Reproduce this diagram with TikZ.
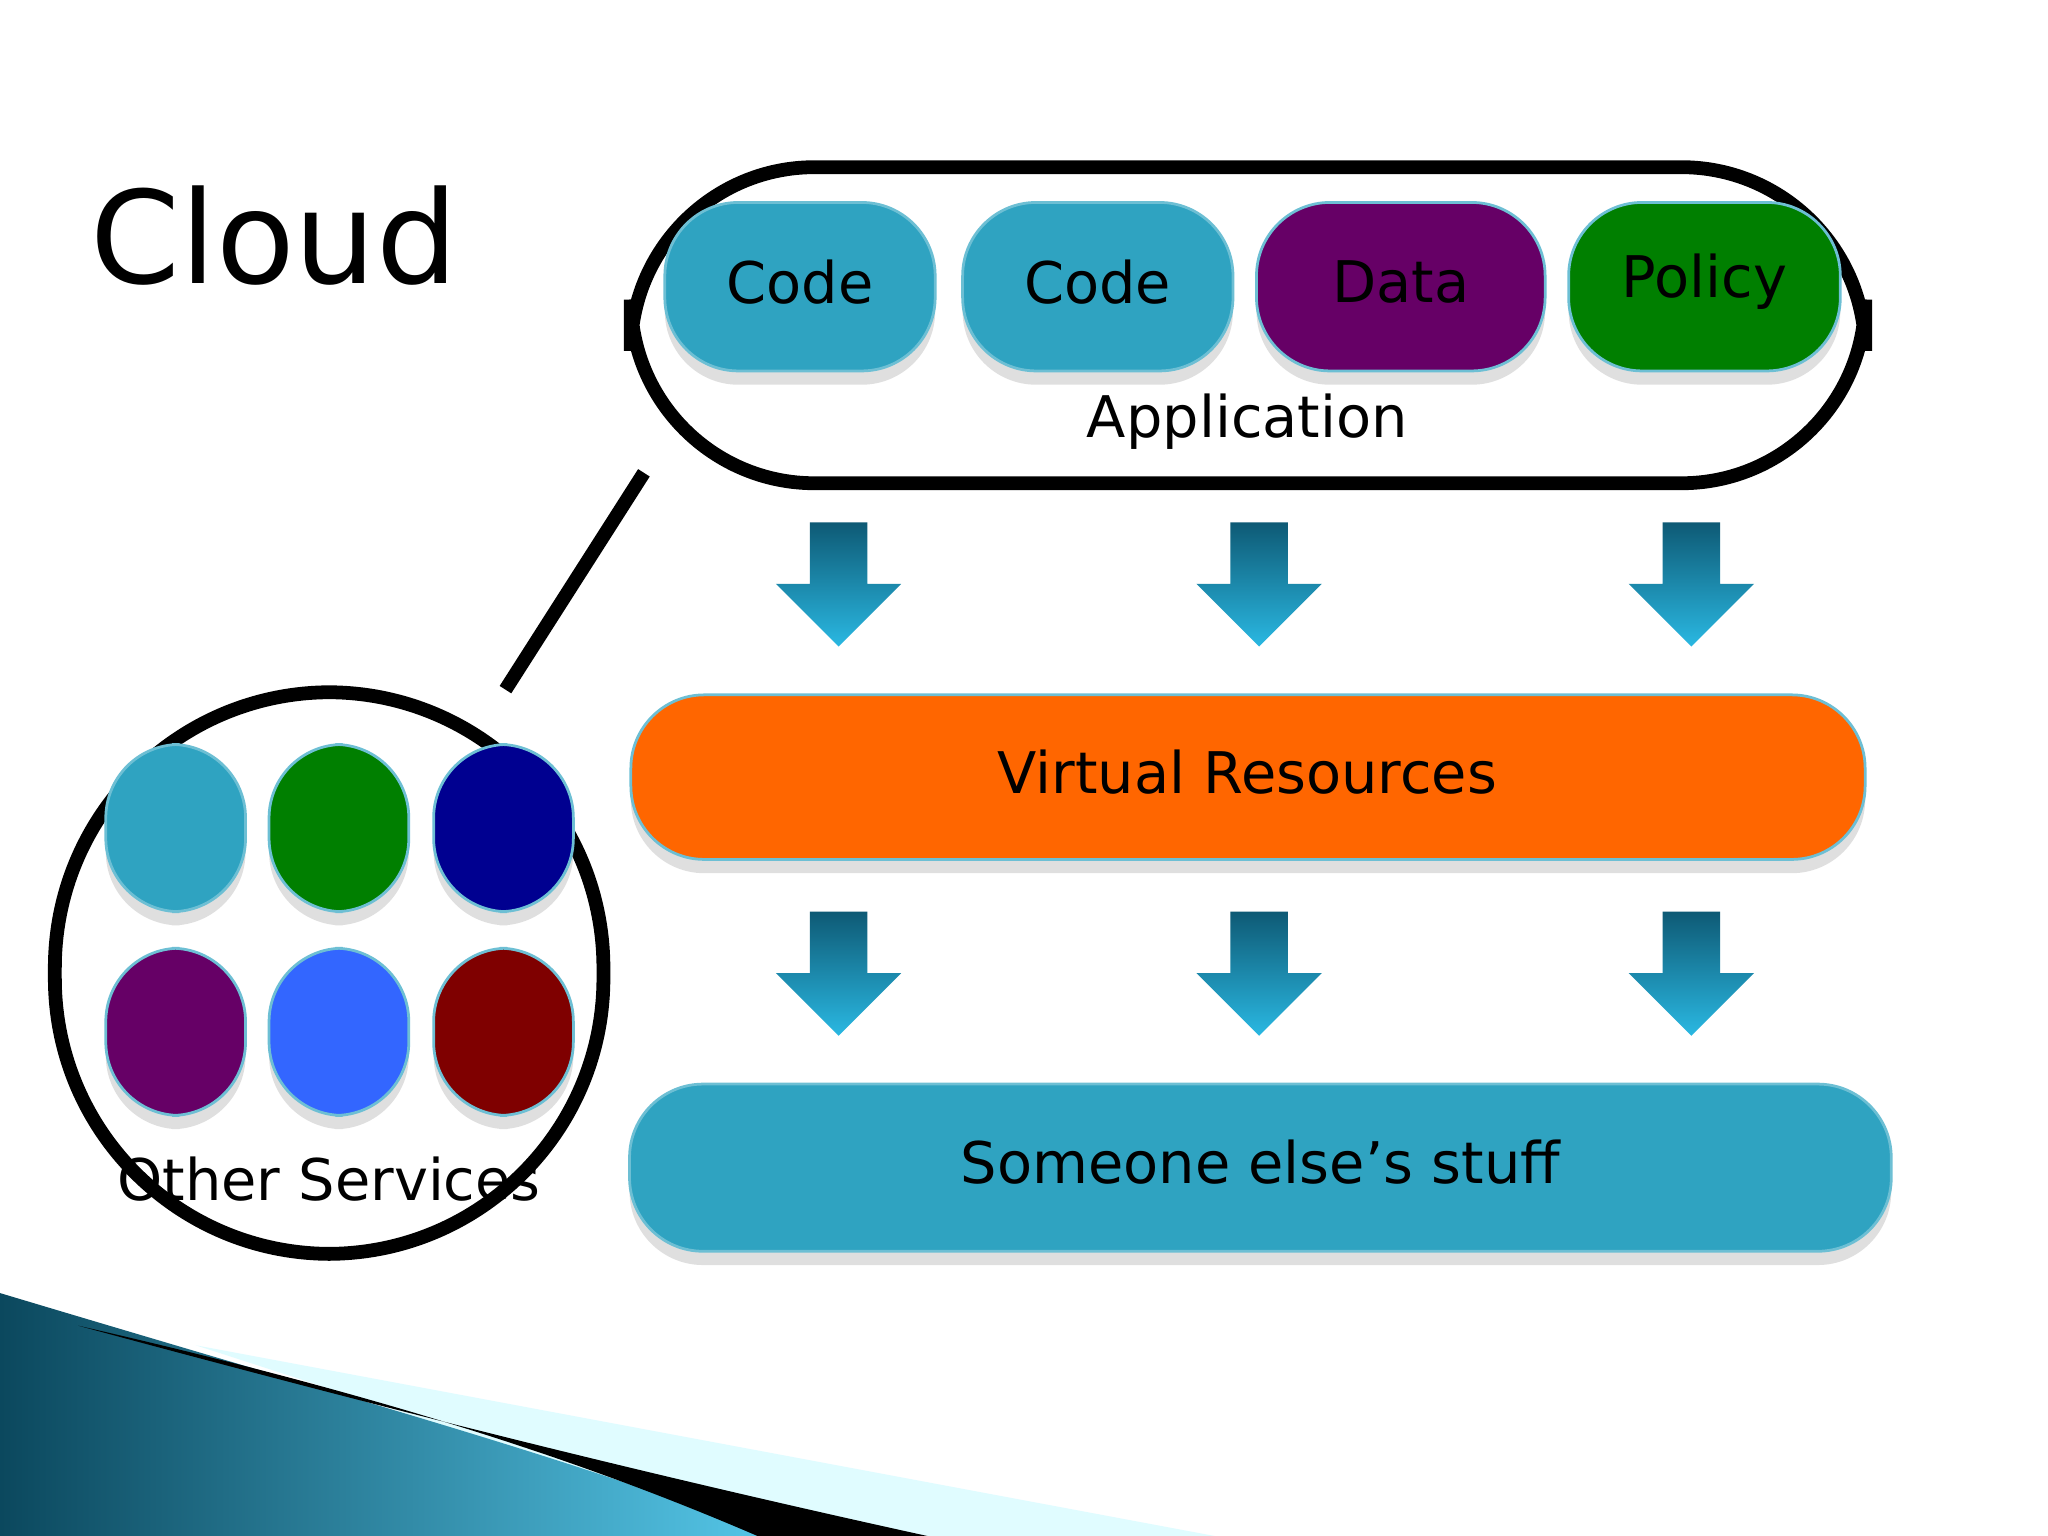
\documentclass[tikz,border=0pt]{standalone}
\usepackage{fontspec}
\setmainfont{DejaVu Sans}
\usetikzlibrary{shadows}
\definecolor{teal1}{HTML}{2FA3C1}
\definecolor{purp}{HTML}{660066}
\definecolor{grn}{HTML}{007F00}
\definecolor{navy1}{HTML}{000090}
\definecolor{blu}{HTML}{3366FF}
\definecolor{maroon1}{HTML}{7F0000}
\definecolor{orng}{HTML}{FF6600}
\definecolor{adark}{HTML}{0E5A75}
\definecolor{alight}{HTML}{2AB8E2}
\begin{document}
\begin{tikzpicture}[x=0.01cm,y=-0.01cm,
 blk/.style={draw=teal1!70!white,line width=0.6pt,rounded corners=16,drop shadow={shadow xshift=0pt,shadow yshift=-3pt,opacity=0.25}},
 lbl/.style={font=\fontsize{12.5pt}{14pt}\selectfont},
 frame/.style={draw=black,line width=3pt,fill=white},
 arr/.style={top color=adark,bottom color=alight,draw=none}]
\useasboundingbox (0,0) rectangle (1568,1176);
\fill[white] (0,0) rectangle (1568,1176);
% swoosh
\fill[blue!10!cyan!12!white] (150,1030) -- (930,1176) -- (600,1176) -- cycle;
\shade[left color=adark!80!black,right color=alight!80!white] (0,990) .. controls (300,1080) and (450,1120) .. (590,1176) -- (0,1176) -- cycle;
\fill[black] (60,1015) .. controls (300,1080) and (500,1130) .. (710,1176) -- (580,1176) .. controls (450,1120) and (300,1070) .. (60,1015) -- cycle;
\node[font=\fontsize{28pt}{32pt}\selectfont] (cloud) at (210,180) {Cloud};
% application
\draw[frame,rounded corners=40] (483,128) rectangle (1428,370);
\node (app) at (955,370) {};
\foreach \n/\a/\b/\c/\t in {c1/509/716/teal1/Code,c2/737/944/teal1/Code,d/962/1183/purp/Data,p/1201/1409/grn/Policy}{
 \draw[blk,fill=\c] (\a,155) rectangle (\b,284);
 \node[lbl] (\n) at ({(\a+\b)/2},216) {\t};}
\node[lbl] (applbl) at (955,323) {Application};
% other services
\coordinate (osc) at (387,528);
\draw[frame,rounded corners=60] (42,530) rectangle (462,960);
\coordinate (appc) at (493,362);
\draw[line width=3pt] (appc) -- (osc);
\foreach \x/\y/\c in {81/570/teal1,206/570/grn,332/570/navy1,81/726/purp,206/726/blu,332/726/maroon1}{
 \draw[blk,fill=\c] (\x,\y) rectangle ++(107,128);}
\node[lbl] (os) at (252,903) {Other Services};
% virtual
\draw[blk,fill=orng] (483,532) rectangle (1428,658);
\node[lbl] (vr) at (955,591) {Virtual Resources};
\draw[blk,fill=teal1] (482,830) rectangle (1448,958);
\node[lbl] (se) at (965,890) {Someone else’s stuff};
% arrows
\foreach \x in {642,964,1295}{\foreach \y in {400,698}{
 \shade[arr] (\x-22,\y) -- (\x+22,\y) -- (\x+22,\y+47) -- (\x+48,\y+47) -- (\x,\y+95) -- (\x-48,\y+47) -- (\x-22,\y+47) -- cycle;}}
\end{tikzpicture}
\end{document}
